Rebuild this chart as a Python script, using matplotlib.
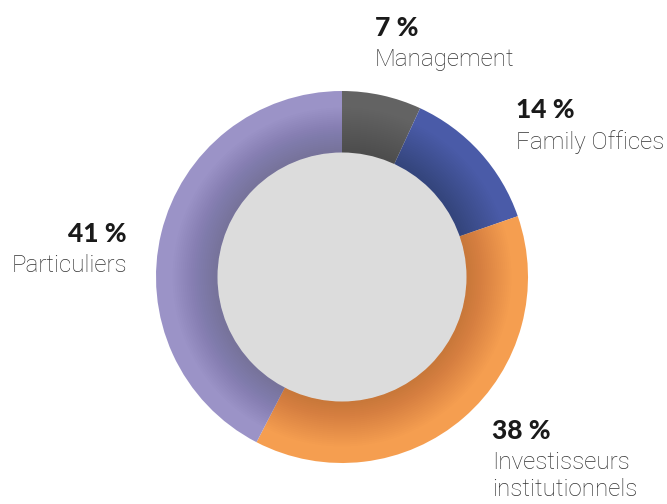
import numpy as np
import matplotlib
matplotlib.use("Agg")
import matplotlib.pyplot as plt
from matplotlib.patches import Wedge, Circle

labels = ["Management", "Family Offices", "Investisseurs\ninstitutionnels", "Particuliers"]
pct_labels = [7, 14, 38, 41]
slice_shares = [6.9, 12.8, 37.9, 42.4]
colors = ["#636363", "#4a5ba8", "#f59e50", "#9b93c7"]

W, H = 667, 504
cx, cy = 342, H - 277
r_out, r_in = 186, 124.5

fig = plt.figure(figsize=(W / 100, H / 100), dpi=100)
ax = fig.add_axes([0, 0, 1, 1])

ax.pie(slice_shares, colors=colors, startangle=90, counterclock=False,
       center=(cx, cy), radius=r_out, wedgeprops=dict(linewidth=0))
ax.set_xlim(0, W)
ax.set_ylim(0, H)
ax.set_aspect("equal")
ax.axis("off")

# soft shadow around the inner disk
for ro in np.linspace(r_in + 3, r_in + 45, 22):
    ax.add_patch(Wedge((cx, cy), ro, 0, 360, width=ro - r_in + 0.5,
                       facecolor="black", alpha=0.008, linewidth=0))
ax.add_patch(Circle((cx, cy), r_in, facecolor="#dcdcdc", edgecolor="none"))

pct_kw = dict(family=["Lato", "DejaVu Sans"], fontsize=19, fontweight="black",
              color="#1a1a1a")
lab_kw = dict(family=["Roboto", "DejaVu Sans"], fontsize=17.4, fontweight="light",
              color="#333333", linespacing=1.22)

# label anchor points (x, y of percentage centre, ha)
anchors = [(375, H - 28, "left"), (516, H - 110, "left"),
           (492, H - 431, "left"), (127, H - 234, "right")]
for (x, y, ha), s, lab in zip(anchors, pct_labels, labels):
    ax.text(x, y, f"{s} %", ha=ha, va="center", **pct_kw)
    ax.text(x, y - 20, lab, ha=ha, va="top", **lab_kw)

fig.savefig("out.png", dpi=100)
